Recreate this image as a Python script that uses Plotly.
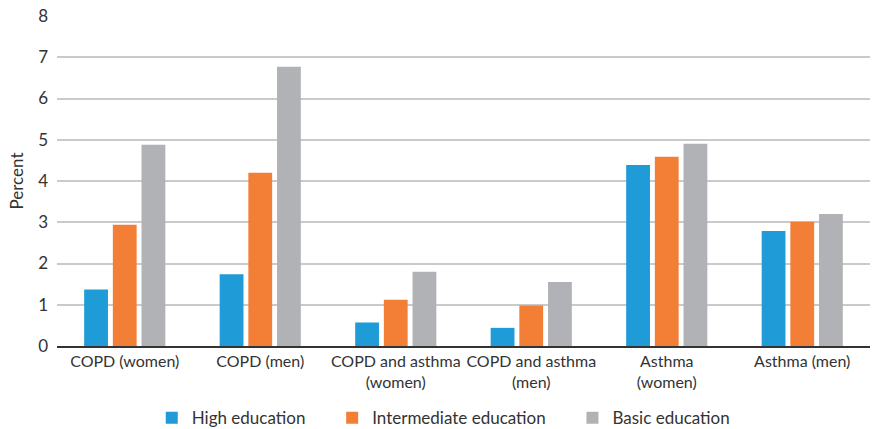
import plotly.graph_objects as go

categories = ["COPD (women)", "COPD (men)", "COPD and asthma<br>(women)",
              "COPD and asthma<br>(men)", "Asthma<br>(women)", "Asthma (men)"]
high = [1.37, 1.74, 0.57, 0.44, 4.39, 2.79]
intermediate = [2.94, 4.20, 1.12, 0.98, 4.59, 3.01]
basic = [4.88, 6.77, 1.80, 1.55, 4.90, 3.20]
series_names = ["High education", "Intermediate education", "Basic education"]
colors = ["#1f9bd7", "#f37f36", "#b1b2b5"]
pad = "\u00a0" * 5

fig = go.Figure()
for i, (name, vals, col) in enumerate(zip(series_names, [high, intermediate, basic], colors)):
    fig.add_trace(go.Bar(x=categories, y=vals,
                         name=name + (pad if i < 2 else ""),
                         marker_color=col, marker_line_width=0))

font_family = "Lato, Noto Sans, sans-serif"
fig.update_layout(
    width=876, height=429,
    margin=dict(l=57, r=6, t=16, b=83, autoexpand=False),
    paper_bgcolor="white", plot_bgcolor="white",
    barmode="group", bargap=0.365, bargroupgap=0.17,
    font=dict(family=font_family, size=17, color="#333333"),
    showlegend=True,
    legend=dict(orientation="h", xref="container", x=0.506, xanchor="center",
                yref="container", y=0.025, yanchor="middle",
                font=dict(size=17, color="#333333"), itemwidth=30,
                traceorder="normal"),
    xaxis=dict(showgrid=False, showline=True, linecolor="#333333", linewidth=1.5,
               ticks="", tickfont=dict(size=16), tickangle=0),
    yaxis=dict(range=[0, 8], dtick=1, showgrid=True, gridcolor="#cacaca",
               gridwidth=2, zeroline=False, ticks="", tickfont=dict(size=17),
               ticklabelstandoff=8, layer="below traces",
               title=dict(text="Percent", font=dict(size=17), standoff=10)),
)
fig.write_html("out.html", config={"displayModeBar": False},
               post_script="document.body.style.margin='0';document.body.style.padding='0';")
